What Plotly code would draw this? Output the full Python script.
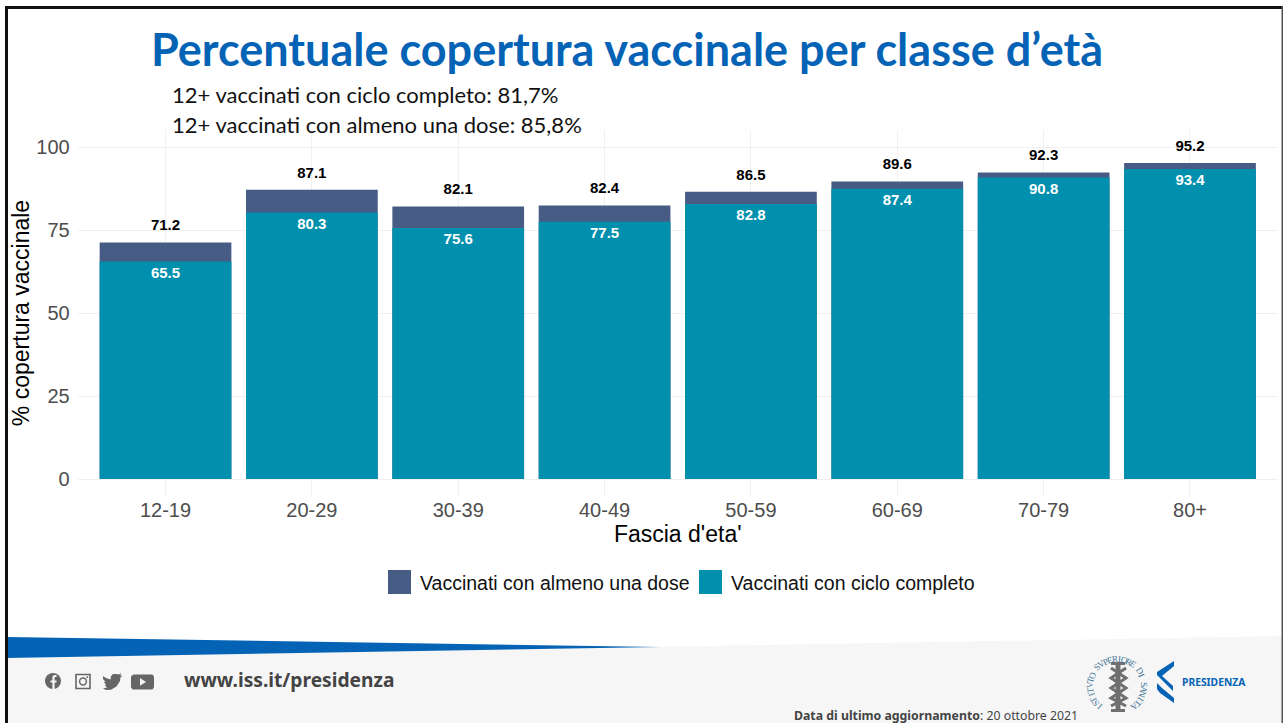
import math
import plotly.graph_objects as go

W, H = 1283, 723

# ---- data ----
age_groups = ["12-19", "20-29", "30-39", "40-49", "50-59", "60-69", "70-79", "80+"]
at_least_one_dose = [71.2, 87.1, 82.1, 82.4, 86.5, 89.6, 92.3, 95.2]
full_cycle = [65.5, 80.3, 75.6, 77.5, 82.8, 87.4, 90.8, 93.4]
y_ticks = [0, 25, 50, 75, 100]
name_one = "Vaccinati con almeno una dose"
name_full = "Vaccinati con ciclo completo"
title_text = "Percentuale copertura vaccinale per classe d’età"
note_lines = ["12+ vaccinati con ciclo completo: 81,7%", "12+ vaccinati con almeno una dose: 85,8%"]

# ---- styles ----
NAVY, TEAL, BLUE, GREY = "#475c85", "#0090ad", "#0563b5", "#f6f6f6"
ARIAL = "Liberation Sans"
LABEL_ABOVE, LABEL_INSIDE = 4.8, -3.8


def X(p):
    return p / W


def Y(p):
    return 1 - p / H


def path(points, close=True):
    s = "M" + " L".join(f"{X(a):.5f},{Y(b):.5f}" for a, b in points)
    return s + (" Z" if close else "")


def poly(points, color, layer="below"):
    return dict(type="path", xref="paper", yref="paper", path=path(points), fillcolor=color,
                line=dict(width=0), layer=layer)


def rect(x0, y0, x1, y1, color, layer="below", line=None):
    return dict(type="rect", xref="paper", yref="paper", x0=X(x0), x1=X(x1), y0=Y(y0), y1=Y(y1),
                fillcolor=color, line=line or dict(width=0), layer=layer)


def stroke(points, color, width, layer="above"):
    return dict(type="path", xref="paper", yref="paper", path=path(points, close=False),
                line=dict(color=color, width=width), layer=layer)


def circle(cx, cy, r, fill, line=None, layer="above"):
    return dict(type="circle", xref="paper", yref="paper", x0=X(cx - r), x1=X(cx + r), y0=Y(cy + r), y1=Y(cy - r),
                fillcolor=fill, line=line or dict(width=0), layer=layer)


def note(x, y, text, size, color, family, xanchor="left", angle=0):
    return dict(xref="paper", yref="paper", x=X(x), y=Y(y), text=text, showarrow=False, xanchor=xanchor,
                yanchor="middle", textangle=angle, font=dict(size=size, color=color, family=family),
                borderpad=0, borderwidth=0)


fig = go.Figure()
fig.add_bar(x=age_groups, y=at_least_one_dose, name=name_one, marker_color=NAVY, width=0.9, showlegend=False,
            marker_line_width=0)
fig.add_bar(x=age_groups, y=full_cycle, name=name_full, marker_color=TEAL, width=0.9, showlegend=False,
            marker_line_width=0)
fig.add_scatter(x=age_groups, y=[v + LABEL_ABOVE for v in at_least_one_dose], mode="text",
                text=[f"{v:.1f}" for v in at_least_one_dose], showlegend=False,
                textfont=dict(family=ARIAL, size=15, color="black", weight="bold"))
fig.add_scatter(x=age_groups, y=[v + LABEL_INSIDE for v in full_cycle], mode="text",
                text=[f"{v:.1f}" for v in full_cycle], showlegend=False,
                textfont=dict(family=ARIAL, size=15, color="white", weight="bold"))

ICON = "#666666"
shapes = [
    # footer
    poly([(7, 658), (650, 647), (1283, 636), (1283, 723), (7, 723)], GREY),
    poly([(7, 637), (660, 647), (7, 658)], BLUE),
    # frame
    rect(5, 6, 1283, 9, "#111111", layer="above"),
    rect(5, 6, 8, 723, "#111111", layer="above"),
    rect(1281.5, 6, 1283, 723, "#555555", layer="above"),
    # legend swatches
    rect(388, 570, 411, 594, NAVY),
    rect(699, 570, 722, 594, TEAL),
    # social icons
    circle(53, 681, 8, ICON),
    stroke([(56.5, 676), (54.5, 676), (53.5, 677), (53.5, 689)], GREY, 2.2),
    stroke([(50.5, 681.5), (56.5, 681.5)], GREY, 2),
    dict(type="rect", xref="paper", yref="paper", x0=X(76), x1=X(90), y0=Y(688.5), y1=Y(674.5),
         fillcolor="rgba(0,0,0,0)", line=dict(color=ICON, width=1.6), layer="above"),
    circle(83, 681.5, 3.4, "rgba(0,0,0,0)", line=dict(color=ICON, width=1.5)),
    circle(87.3, 677.2, 0.9, ICON),
    poly([(103, 676), (106, 678), (110.5, 679.5), (110.8, 676.5), (113, 674), (116.5, 674), (119, 674.5),
          (121, 673), (120.3, 675.7), (122.5, 675.2), (120.5, 677.5), (120, 681), (116.5, 686.5), (111, 689.8),
          (106, 690), (103, 688.5), (107, 687.5), (104.8, 685), (106.2, 684.8), (103.8, 682), (105.5, 682), (103, 679)],
         ICON, layer="above"),
    stroke([(133, 675.5), (152, 675.5), (153, 677), (153, 687), (152, 688.5), (133, 688.5), (132, 687), (132, 677), (133, 675.5)], ICON, 2),
    rect(133, 675.5, 152, 688.5, ICON, layer="above"),
    poly([(140, 678), (146, 681.9), (140, 685.8)], GREY, layer="above"),
    # staff of the ISS logo
    rect(1115.5, 664, 1120.5, 711, "#6f6f6f", layer="above"),
    rect(1111, 662, 1125, 665, "#6f6f6f", layer="above"),
    rect(1111, 709, 1125, 712, "#6f6f6f", layer="above"),
    stroke([(1111, 668), (1126, 678), (1111, 688), (1126, 698), (1111, 706)], "#6f6f6f", 3),
    stroke([(1126, 668), (1111, 678), (1126, 688), (1111, 698), (1126, 706)], "#6f6f6f", 3),
    # presidency swoosh
    poly([(1174, 661), (1174, 666), (1162, 676), (1173, 686), (1173, 691), (1157, 675), (1157, 672)], BLUE, layer="above"),
    poly([(1157, 683), (1162, 688), (1174, 698), (1174, 703), (1160, 693), (1157, 689)], BLUE, layer="above"),
]

annotations = [
    note(151, 49, f"<b>{title_text}</b>", 45, BLUE, "Lato, sans-serif"),
    note(172, 95, note_lines[0], 22, "#111111", "Lato, sans-serif"),
    note(172, 124, note_lines[1], 22, "#111111", "Lato, sans-serif"),
    note(420, 583, name_one, 19.5, "#111111", ARIAL),
    note(731, 583, name_full, 19.5, "#111111", ARIAL),
    note(184, 679, "<b>www.iss.it/presidenza</b>", 19.2, "#444444", "Noto Sans, sans-serif"),
    note(794, 715, "<b>Data di ultimo aggiornamento</b>: 20 ottobre 2021", 12.3, "#444444", "Noto Sans, sans-serif"),
    note(1182, 682, "<b>PRESIDENZA</b>", 10.3, BLUE, "Noto Sans, sans-serif"),
]

# lettering round the ISS seal
seal = "ISTITVTO SVPERIORE DI SANITA"
cx, cy, rad = 1117, 686, 27
start, end = -140, 140
for i, ch in enumerate(seal):
    ang = start + (end - start) * i / (len(seal) - 1)
    a = math.radians(ang)
    annotations.append(note(cx + rad * math.sin(a), cy - rad * math.cos(a), ch, 9, "#3f7396",
                            "Liberation Serif, serif", xanchor="center", angle=ang))

fig.update_layout(
    width=W, height=H, autosize=False, barmode="overlay", bargap=0.1,
    margin=dict(l=0, r=0, t=0, b=0), paper_bgcolor="white", plot_bgcolor="white",
    shapes=shapes, annotations=annotations, showlegend=False,
    xaxis=dict(
        domain=[77.7 / W, 1277.8 / W], range=[-0.6, 7.6], type="category", automargin=False,
        categoryorder="array", categoryarray=age_groups,
        showgrid=True, gridcolor="#f0f0f0", gridwidth=1, zeroline=False, showline=False,
        ticks="", ticklabelstandoff=0,
        tickfont=dict(family=ARIAL, size=20, color="#4d4d4d"),
        title=dict(text="Fascia d'eta'", font=dict(family=ARIAL, size=23, color="black"), standoff=3),
    ),
    yaxis=dict(
        domain=[1 - 495.6 / H, 1 - 130.4 / H], range=[-5, 105], tickvals=y_ticks, automargin=False,
        showgrid=True, gridcolor="#f0f0f0", gridwidth=1, zeroline=False, showline=False,
        ticks="outside", ticklen=3, tickcolor="rgba(0,0,0,0)",
        tickfont=dict(family=ARIAL, size=20, color="#4d4d4d"),
        title=dict(text="% copertura vaccinale", font=dict(family=ARIAL, size=23, color="black"), standoff=0),
    ),
)

fig.write_html(
    "out.html",
    config=dict(displayModeBar=False),
    post_script="document.body.style.margin='0';document.body.style.overflow='hidden';",
)
